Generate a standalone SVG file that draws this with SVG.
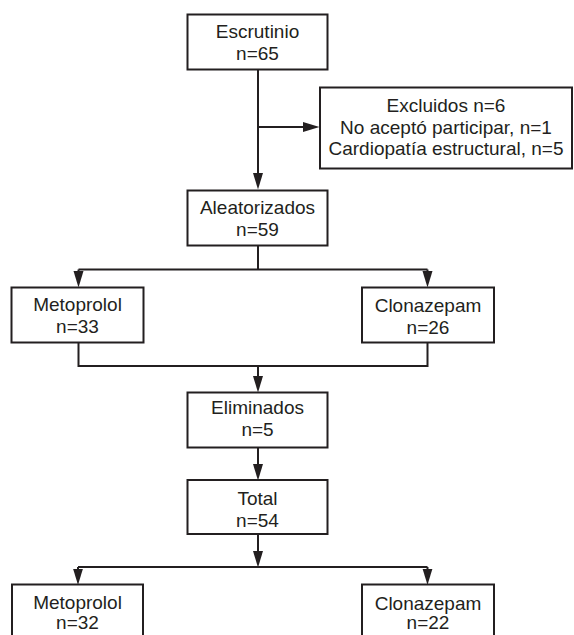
<svg xmlns="http://www.w3.org/2000/svg" width="574" height="635" viewBox="0 0 574 635">
<style>
.box{fill:#ffffff;stroke:#231f20;stroke-width:2}
.t{font-family:"Liberation Sans",Arial,Helvetica,sans-serif;font-size:19px;fill:#231f20;text-anchor:middle}
.ln{fill:none;stroke:#231f20;stroke-width:2}
.ar{fill:none;stroke:#231f20;stroke-width:2;marker-end:url(#ah)}
</style>
<defs>
<marker id="ah" markerUnits="userSpaceOnUse" markerWidth="17" markerHeight="11" refX="8" refY="5" orient="auto">
<path d="M0,0 L16.5,5 L0,10 Z" fill="#231f20"/>
</marker>
</defs>
<rect width="574" height="635" fill="#ffffff"/>
<g id="connectors">
<path class="ln" d="M258,69.5 V182"/>
<path class="ar" d="M258,127 H311"/>
<path class="ar" d="M258,150 V181"/>
<path class="ln" d="M258,245.5 V269.5"/>
<path class="ln" d="M78.5,269.5 H427.5"/>
<path class="ar" d="M78.5,269.5 V279"/>
<path class="ar" d="M427.5,269.5 V279"/>
<path class="ln" d="M78.5,342.5 V366 H427.5 V342.5"/>
<path class="ar" d="M258,366 V384"/>
<path class="ar" d="M258,447.5 V472"/>
<path class="ar" d="M258,534 V559"/>
<path class="ln" d="M78,567 H427.5"/>
<path class="ar" d="M78,567 V576.5"/>
<path class="ar" d="M427.5,567 V576.5"/>
</g>
<g id="escrutinio">
<rect class="box" x="187.5" y="14.5" width="140" height="55"/>
<text class="t" x="257.5" y="37.5">Escrutinio</text>
<text class="t" x="257.5" y="59.5">n=65</text>
</g>
<g id="excluidos">
<rect class="box" x="320" y="87.5" width="252" height="81"/>
<text class="t" x="446" y="112">Excluidos n=6</text>
<text class="t" x="446" y="133.5">No aceptó participar, n=1</text>
<text class="t" x="446" y="155">Cardiopatía estructural, n=5</text>
</g>
<g id="aleatorizados">
<rect class="box" x="187.5" y="190.5" width="140" height="55"/>
<text class="t" x="257.5" y="213.5">Aleatorizados</text>
<text class="t" x="257.5" y="236">n=59</text>
</g>
<g id="metoprolol1">
<rect class="box" x="11.5" y="287.5" width="132" height="55"/>
<text class="t" x="77.5" y="311">Metoprolol</text>
<text class="t" x="77.5" y="333">n=33</text>
</g>
<g id="clonazepam1">
<rect class="box" x="362" y="287.5" width="132" height="55"/>
<text class="t" x="428" y="311.5">Clonazepam</text>
<text class="t" x="428" y="333.5">n=26</text>
</g>
<g id="eliminados">
<rect class="box" x="187.5" y="392.5" width="140" height="55"/>
<text class="t" x="257.5" y="414">Eliminados</text>
<text class="t" x="257.5" y="436">n=5</text>
</g>
<g id="total">
<rect class="box" x="187.5" y="480" width="140" height="54"/>
<text class="t" x="257.5" y="505">Total</text>
<text class="t" x="257.5" y="527">n=54</text>
</g>
<g id="metoprolol2">
<rect class="box" x="12" y="584.5" width="131" height="60"/>
<text class="t" x="77.5" y="609">Metoprolol</text>
<text class="t" x="77.5" y="629">n=32</text>
</g>
<g id="clonazepam2">
<rect class="box" x="362" y="584.5" width="132" height="60"/>
<text class="t" x="428" y="610">Clonazepam</text>
<text class="t" x="428" y="629">n=22</text>
</g>
</svg>
